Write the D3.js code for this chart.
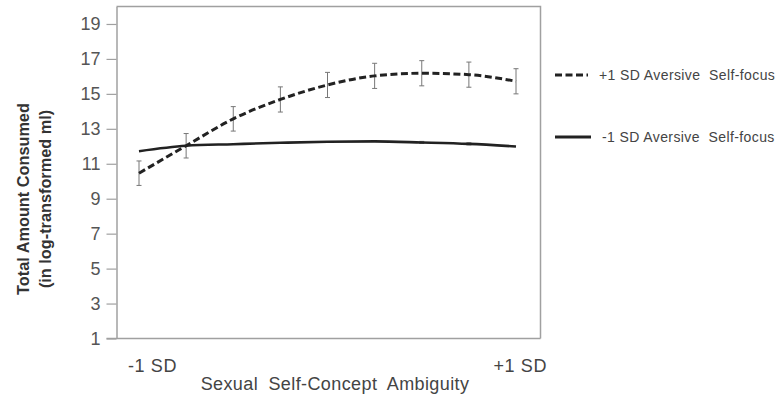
<!DOCTYPE html>
<html><head><meta charset="utf-8">
<script src="https://cdn.jsdelivr.net/npm/d3@7"></script>
<style>
body{margin:0;background:#fff;}
svg{display:block;font-family:"Liberation Sans",Arial,sans-serif;}
</style></head>
<body><svg id="c" width="783" height="403"></svg>
<script>
const points = [0,1,2,3,4,5,6,7,8];
const xTickLabels = ["-1 SD","+1 SD"];
const yTicks = [1,3,5,7,9,11,13,15,17,19];
const highValues = [10.46,12.03,13.57,14.68,15.51,16.03,16.18,16.1,15.72];
const highErrors = [0.7,0.7,0.7,0.72,0.72,0.72,0.72,0.72,0.72];
const lowValues = [11.72,12.03,12.12,12.2,12.26,12.28,12.22,12.14,11.99];
const lowErrors = [0,0,0,0,0,0,0.06,0.06,0];
const seriesNames = ["+1 SD Aversive  Self-focus","-1 SD Aversive  Self-focus"];

const svg = d3.select("#c");
const L=116.5,R=540.5,T=6.5,B=338.5;
const x = d3.scaleLinear().domain([0,8]).range([139,516]);
const y = d3.scaleLinear().domain([1,20]).range([B,T]);
const frame="#a0a0a0";

svg.append("path").attr("d",`M${L},${T}H${R}V${B}`).attr("fill","none").attr("stroke",frame).attr("stroke-width",1.5);

const ya = svg.append("g").attr("transform",`translate(${L},0)`)
  .call(d3.axisLeft(y).tickValues(yTicks).tickSize(10).tickPadding(6).tickSizeOuter(0));
ya.select(".domain").attr("stroke",frame).attr("stroke-width",1.5);
ya.selectAll(".tick line").attr("stroke",frame).attr("stroke-width",1.2);
ya.selectAll(".tick text").attr("fill","#555").attr("font-size",18).attr("font-family","Liberation Sans, Arial, sans-serif");

svg.append("line").attr("x1",L-10).attr("x2",R).attr("y1",B).attr("y2",B).attr("stroke",frame).attr("stroke-width",1.5);

svg.append("text").attr("x",x(0)-11).attr("y",372).attr("text-anchor","start").attr("font-size",18).attr("letter-spacing",0.6).attr("fill","#444").text(xTickLabels[0]);
svg.append("text").attr("x",x(8)+31).attr("y",372).attr("text-anchor","end").attr("font-size",18).attr("letter-spacing",0.6).attr("fill","#444").text(xTickLabels[1]);

svg.append("text").attr("x",335).attr("y",390).attr("text-anchor","middle").attr("font-size",18).attr("letter-spacing",0.4).attr("fill","#444").attr("word-spacing",5).text("Sexual Self-Concept Ambiguity");

const yt = svg.append("text").attr("transform","translate(0,199) rotate(-90)").attr("text-anchor","middle").attr("font-size",16.3).attr("font-weight","bold").attr("fill","#333");
yt.append("tspan").attr("x",0).attr("y",29).text("Total Amount Consumed");
yt.append("tspan").attr("x",0).attr("y",51).text("(in log-transformed ml)");

const line = d3.line().x((d,i)=>x(points[i])).y(d=>y(d)).curve(d3.curveMonotoneX);

function errBars(vals,errs){
  const g=svg.append("g").attr("stroke","#777").attr("stroke-width",1);
  points.forEach((p,i)=>{
    if(!errs[i]) return;
    const cx=x(p), y1=y(vals[i]+errs[i]), y2=y(vals[i]-errs[i]);
    g.append("line").attr("x1",cx).attr("x2",cx).attr("y1",y1).attr("y2",y2);
    g.append("line").attr("x1",cx-2.5).attr("x2",cx+2.5).attr("y1",y1).attr("y2",y1);
    g.append("line").attr("x1",cx-2.5).attr("x2",cx+2.5).attr("y1",y2).attr("y2",y2);
  });
}
errBars(lowValues,lowErrors);
svg.append("path").datum(lowValues).attr("d",line).attr("fill","none").attr("stroke","#222").attr("stroke-width",2.6);
errBars(highValues,highErrors);
svg.append("path").datum(highValues).attr("d",line).attr("fill","none").attr("stroke","#222").attr("stroke-width",3).attr("stroke-dasharray","7,3.5");

const lg=svg.append("g");
lg.append("line").attr("x1",555).attr("x2",588).attr("y1",75).attr("y2",75).attr("stroke","#222").attr("stroke-width",3).attr("stroke-dasharray","7,3.5");
lg.append("text").attr("x",599).attr("y",80).attr("font-size",14).attr("letter-spacing",0.4).attr("xml:space","preserve").style("white-space","pre").attr("fill","#444").text(seriesNames[0]);
lg.append("line").attr("x1",555).attr("x2",591).attr("y1",137).attr("y2",137).attr("stroke","#222").attr("stroke-width",3);
lg.append("text").attr("x",602).attr("y",142).attr("font-size",14).attr("letter-spacing",0.4).attr("xml:space","preserve").style("white-space","pre").attr("fill","#444").text(seriesNames[1]);
</script></body></html>
